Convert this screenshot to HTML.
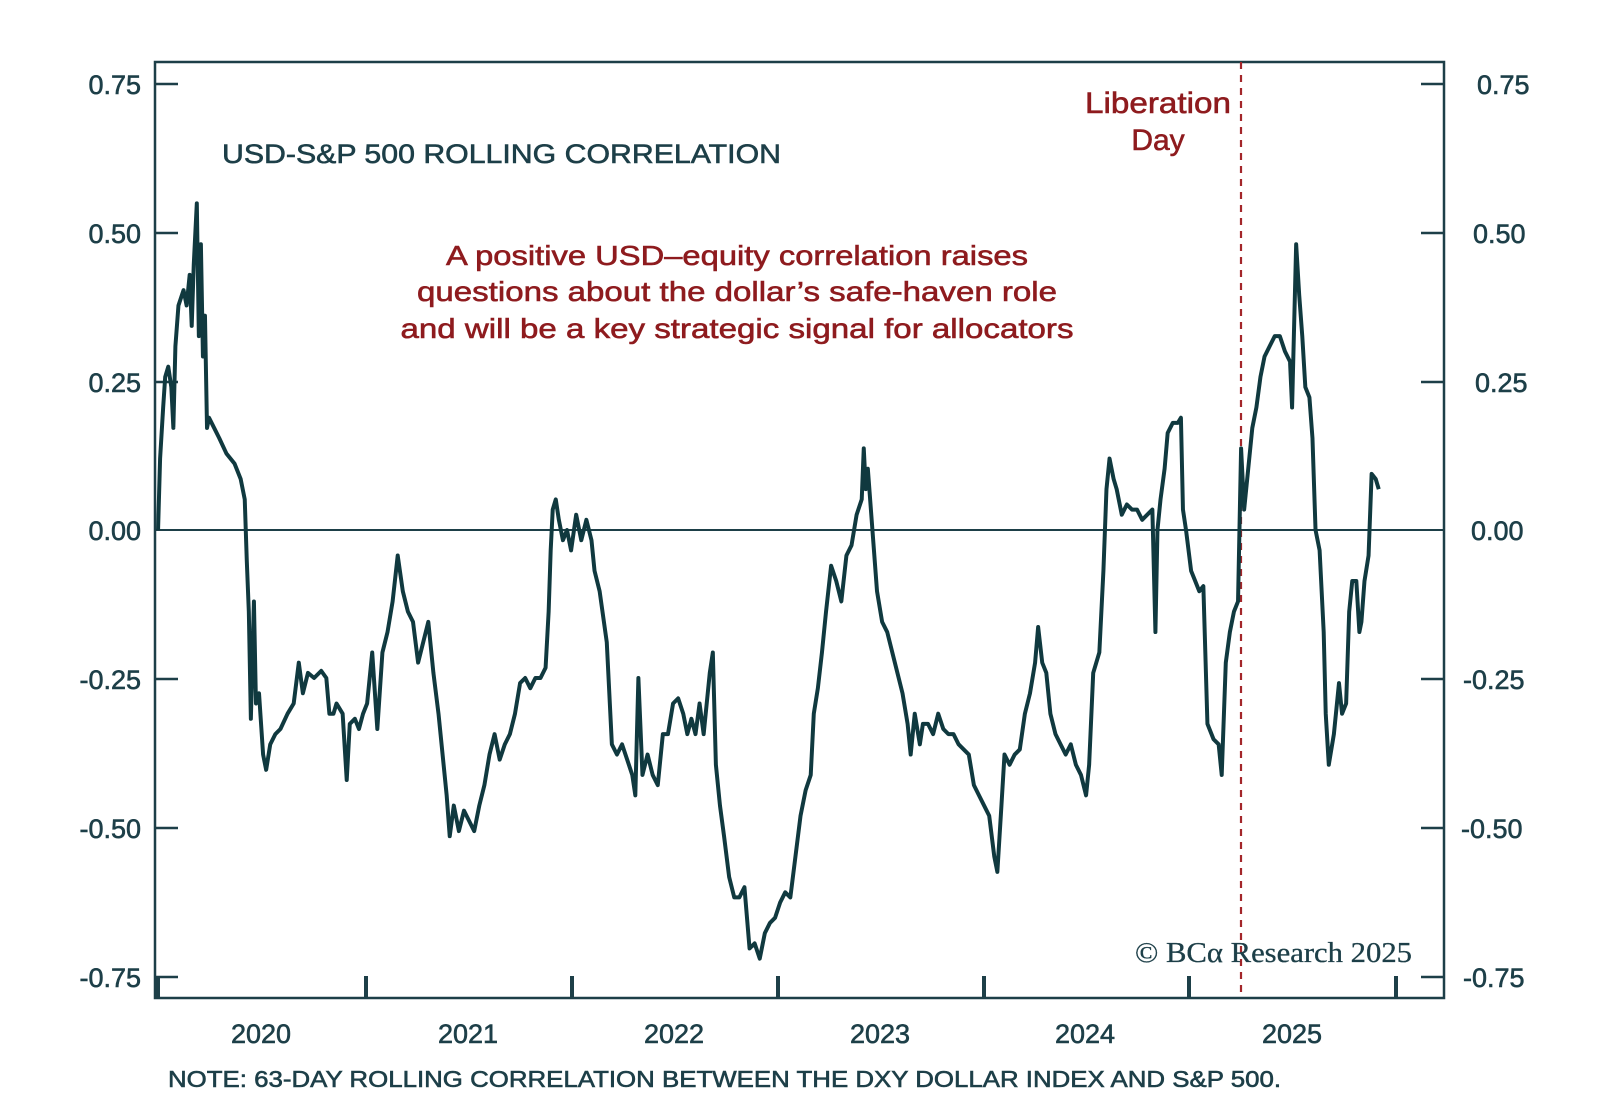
<!DOCTYPE html>
<html><head><meta charset="utf-8"><style>
body{margin:0;background:#fff;}
svg text{font-family:"Liberation Sans",sans-serif;}
</style></head><body>
<svg width="1600" height="1107" viewBox="0 0 1600 1107" xmlns="http://www.w3.org/2000/svg">
<rect width="1600" height="1107" fill="#fff"/>
<g stroke="#1d3f48" stroke-width="2.5" fill="none">
<rect x="155" y="62" width="1289" height="936"/>
<line x1="155" y1="530" x2="1444" y2="530" stroke-width="2"/>
<path d="M155 84h23M155 233h23M155 382h23M155 679h23M155 828h23M155 977h23M1444 84h-23M1444 233h-23M1444 382h-23M1444 679h-23M1444 828h-23M1444 977h-23"/>
<path d="M158 998v-22M366 998v-22M572 998v-22M778 998v-22M984 998v-22M1189 998v-22M1396 998v-22" stroke-width="4"/>
</g>
<line x1="1241" y1="62" x2="1241" y2="998" stroke="#a3262a" stroke-width="2.2" stroke-dasharray="7,6"/>
<g transform="translate(155,84) scale(1.0198,1.0206) translate(-152,-83)">
<polyline fill="none" stroke="#10393f" stroke-width="3.9" stroke-linejoin="round" points="155,520 157,450 160,400 162,370 165,360 168,380 170,420 172,340 175,300 180,285 183,300 186,270 188,320 190,260 193,200 195,330 197,240 199,350 201,310 203,420 205,410 210,420 215,430 222,445 230,455 236,470 240,490 242,550 244,600 246,705 249,590 251,690 254,680 258,740 261,755 265,730 270,720 275,715 282,700 288,690 293,650 297,680 302,660 308,665 315,658 320,665 323,700 327,700 330,690 336,700 340,765 343,710 348,705 352,715 356,700 360,690 365,640 370,715 375,640 380,620 385,590 390,545 395,580 400,600 405,610 410,650 415,630 420,610 425,660 430,700 435,750 438,780 441,820 445,790 450,815 455,795 460,805 465,815 470,790 475,770 480,740 485,720 490,745 495,730 500,720 505,700 510,670 515,665 520,675 525,665 530,665 535,655 538,600 540,540 542,500 545,490 548,510 552,530 556,520 560,540 565,505 570,530 575,510 580,530 583,560 588,580 595,630 600,730 605,740 610,730 615,745 620,760 623,780 626,665 630,760 635,740 640,760 645,770 650,720 655,720 660,690 665,685 670,700 674,720 678,705 682,720 686,690 690,720 696,660 699,640 702,750 706,790 710,820 715,860 720,880 725,880 730,870 735,930 740,925 745,940 750,915 755,905 760,900 765,885 770,875 775,880 780,840 785,800 790,775 795,760 798,700 802,675 806,640 810,600 815,555 820,570 825,590 830,545 835,535 840,505 845,490 847,440 849,480 851,460 854,500 857,540 860,580 865,610 870,620 875,640 880,660 885,680 890,710 893,740 897,700 902,730 905,710 910,710 915,720 920,700 925,715 930,720 935,720 940,730 945,735 950,740 955,770 960,780 965,790 970,800 975,840 978,855 982,790 985,740 990,750 995,740 1000,735 1005,700 1010,680 1015,650 1018,615 1022,650 1026,660 1030,700 1035,720 1040,730 1045,740 1050,730 1055,750 1060,760 1065,780 1068,750 1072,660 1078,640 1082,560 1085,480 1088,450 1092,470 1095,480 1100,505 1105,495 1110,500 1115,500 1120,510 1125,505 1130,500 1133,620 1135,520 1138,490 1142,460 1145,425 1150,415 1155,415 1158,410 1160,500 1163,520 1168,560 1172,570 1176,580 1180,575 1184,710 1190,725 1195,730 1198,760 1202,650 1206,620 1210,600 1214,590 1217,440 1220,500 1224,460 1228,420 1232,400 1236,370 1240,350 1245,340 1250,330 1255,330 1260,345 1265,355 1267,400 1269,320 1271,240 1274,290 1277,330 1280,380 1284,390 1287,430 1290,520 1294,540 1298,620 1300,700 1303,750 1308,720 1313,670 1316,700 1320,690 1323,600 1326,570 1330,570 1333,620 1335,610 1338,570 1342,545 1345,465 1349,470 1352,480"/>
</g>
<g fill="#1d3f48" stroke="#1d3f48" stroke-width="0.6" font-size="27">
<g text-anchor="end">
<text x="141" y="94">0.75</text><text x="141" y="243">0.50</text><text x="141" y="392">0.25</text><text x="141" y="540">0.00</text><text x="141" y="689">-0.25</text><text x="141" y="838">-0.50</text><text x="141" y="987">-0.75</text>
</g>
<g text-anchor="start">
<text x="1477" y="94">0.75</text><text x="1473" y="243">0.50</text><text x="1475" y="392">0.25</text><text x="1471" y="540">0.00</text><text x="1463" y="689">-0.25</text><text x="1461" y="838">-0.50</text><text x="1463" y="987">-0.75</text>
</g>
<g text-anchor="middle" font-size="27">
<text x="261" y="1043">2020</text><text x="468" y="1043">2021</text><text x="674" y="1043">2022</text><text x="880" y="1043">2023</text><text x="1085" y="1043">2024</text><text x="1292" y="1043">2025</text>
</g>
<text x="222" y="163" font-size="27" textLength="559" lengthAdjust="spacingAndGlyphs">USD-S&amp;P 500 ROLLING CORRELATION</text>
<text x="168" y="1087" font-size="23" textLength="1113" lengthAdjust="spacingAndGlyphs">NOTE: 63-DAY ROLLING CORRELATION BETWEEN THE DXY DOLLAR INDEX AND S&amp;P 500.</text>
<text x="1135" y="962" font-size="28" stroke-width="0.3" style="font-family:'Liberation Serif',serif" textLength="277" lengthAdjust="spacingAndGlyphs">© BCα Research 2025</text>
</g>
<g fill="#8e1b1e" stroke="#8e1b1e" stroke-width="0.6" font-size="28" text-anchor="middle">
<text x="737" y="265" textLength="582" lengthAdjust="spacingAndGlyphs">A positive USD–equity correlation raises</text>
<text x="737" y="301" textLength="640" lengthAdjust="spacingAndGlyphs">questions about the dollar’s safe-haven role</text>
<text x="737" y="338" textLength="673" lengthAdjust="spacingAndGlyphs">and will be a key strategic signal for allocators</text>
<text x="1158" y="113" font-size="30" textLength="146" lengthAdjust="spacingAndGlyphs">Liberation</text>
<text x="1158" y="150" font-size="30">Day</text>
</g>
</svg>
</body></html>
